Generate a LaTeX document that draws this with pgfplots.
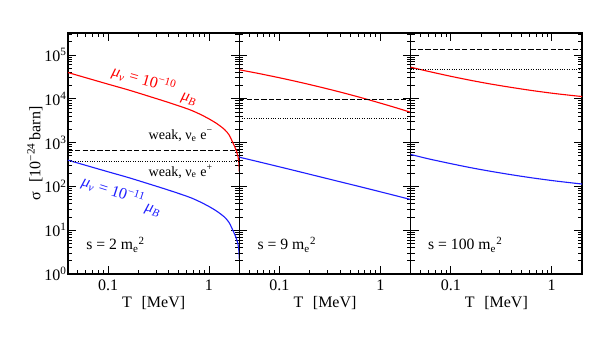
\documentclass[border=0pt]{standalone}
\usepackage{fontspec}
\setmainfont{Liberation Serif}
\usepackage{pgfplots}
\usepackage{pgfplotstable}
\pgfplotsset{compat=1.18}
\definecolor{gred}{HTML}{FF0000}
\definecolor{gblue}{HTML}{1E1EFF}

% T [MeV], sigma for mu = 1e-10 (red) and 1e-11 (blue)
\pgfplotstableread{
T     red    blue
0.04  39600  396
0.06  30200  302
0.10  21500  215
0.16  15800  158
0.25  11500  115
0.40  8170   81.7
0.63  5730   57.3
0.80  4520   45.2
1.00  3470   34.7
1.20  2690   26.9
1.42  2000   20.0
1.58  1500   15.0
1.73  977    9.77
1.84  708    7.08
1.94  479    4.79
1.97  380    3.80
2.00  214    2.14
}\panelA
\pgfplotstableread{
T     red    blue
0.04  45700  463
0.06  38300  371
0.10  30100  279
0.16  23700  214
0.25  18600  166
0.40  14200  127
0.63  10740  98.2
1.00  7940   75.2
1.40  6320   61.8
2.00  4900   50.1
}\panelB
\pgfplotstableread{
T     red    blue
0.04  52500  535
0.06  42100  425
0.10  32500  330
0.16  26100  265
0.25  21600  220
0.40  18100  184
0.63  15450  157
1.00  13400  136
1.40  12250  124
2.00  11220  113
}\panelC

\pgfplotsset{
  xmin=0.04, xmax=2, ymin=1, ymax=3.16e5,
  xtick={0.1,1}, xticklabels={0.1,1},
  minor xtick={0.05,0.06,0.07,0.08,0.09,0.2,0.3,0.4,0.5,0.6,0.7,0.8,0.9},
  ytick={1,10,100,1000,10000,100000},
  minor ytick={2,3,4,5,6,7,8,9,20,30,40,50,60,70,80,90,200,300,400,500,600,700,800,900,
    2000,3000,4000,5000,6000,7000,8000,9000,20000,30000,40000,50000,60000,70000,80000,90000,200000,300000},
  xtick pos=both, ytick pos=both,
  xticklabel pos=lower, yticklabel pos=left,
  tick align=inside, major tick length=5pt, minor tick length=2.5pt,
  tick style={black, line width=0.5pt},
  axis line style={line width=0.8pt},
  tick label style={font=\fontsize{10}{11}\selectfont},
  yticklabel style={inner xsep=0.6pt},
  xlabel style={font=\fontsize{10}{12}\selectfont, yshift=3pt},
  ylabel style={font=\fontsize{10}{12}\selectfont},
}
\tikzset{
  wk/.style={black, line width=0.6pt, dash pattern=on 3.2pt off 1.4pt},
  wp/.style={black, line width=0.5pt, dash pattern=on 0.5pt off 1pt},
  cv/.style={line width=0.7pt, smooth},
  txt/.style={font=\fontsize{8.8}{10}\selectfont, inner sep=0pt},
  mu/.style={font=\fontsize{10}{12}\selectfont, inner sep=0pt},
  sl/.style={font=\fontsize{9.8}{11}\selectfont, inner sep=0pt, anchor=base west},
}

\begin{document}
\begin{tikzpicture}
\path[use as bounding box] (-42.5pt,-43.125pt) rectangle (342.5pt,171.25pt);

\begin{axis}[xmode=log, ymode=log, scale only axis, width=107.1pt, height=150.6pt,
  name=p1, at={(0,0)}, anchor=south west,
  xlabel={T\hspace{0.6em}[MeV]},
  yticklabels={10\textsuperscript{0},10\textsuperscript{1},10\textsuperscript{2},10\textsuperscript{3},10\textsuperscript{4},10\textsuperscript{5}},
  ylabel={σ\hspace{0.6em}[10\textsuperscript{−24}\,barn]},
  ylabel style={at={(axis description cs:-0.193,0.5)}, anchor=center}]
\addplot[cv, gred] table[x=T,y=red] {\panelA};
\addplot[cv, gblue] table[x=T,y=blue] {\panelA};
\addplot[wk] coordinates {(0.04,660) (2,660)};
\addplot[wp] coordinates {(0.04,380) (2,380)};
\node[mu, text=gred, rotate=-16] at (axis cs:0.226,27000)
  {\textit{μ}\textsubscript{\textit{ν}} = 10\textsuperscript{−10}};
\node[mu, text=gred, rotate=-16] at (axis cs:0.63,9300) {\textit{μ}\textsubscript{\textit{B}}};
\node[mu, text=gblue, rotate=-18] at (axis cs:0.112,77)
  {\textit{μ}\textsubscript{\textit{ν}} = 10\textsuperscript{−11}};
\node[mu, text=gblue, rotate=-18] at (axis cs:0.275,27) {\textit{μ}\textsubscript{\textit{B}}};
\node[txt, anchor=base west] at (axis cs:0.25,1170) {weak, ν\textsubscript{e} e\textsuperscript{−}};
\node[txt, anchor=base west] at (axis cs:0.25,171) {weak, ν\textsubscript{e} e\textsuperscript{+}};
\node[sl] at (rel axis cs:0.105,0.1) {s = 2 m\textsubscript{e}\textsuperscript{2}};
\end{axis}

\begin{axis}[xmode=log, ymode=log, scale only axis, width=107.1pt, height=150.6pt,
  name=p2, at={(p1.south east)}, anchor=south west,
  xlabel={T\hspace{0.6em}[MeV]}, yticklabels={}]
\addplot[cv, gred] table[x=T,y=red] {\panelB};
\addplot[cv, gblue] table[x=T,y=blue] {\panelB};
\addplot[wk] coordinates {(0.04,9800) (2,9800)};
\addplot[wp] coordinates {(0.04,3630) (2,3630)};
\node[sl] at (rel axis cs:0.105,0.1) {s = 9 m\textsubscript{e}\textsuperscript{2}};
\end{axis}

\begin{axis}[xmode=log, ymode=log, scale only axis, width=107.1pt, height=150.6pt,
  name=p3, at={(p2.south east)}, anchor=south west,
  xlabel={T\hspace{0.6em}[MeV]}, yticklabels={}]
\addplot[cv, gred] table[x=T,y=red] {\panelC};
\addplot[cv, gblue] table[x=T,y=blue] {\panelC};
\addplot[wk] coordinates {(0.04,135000) (2,135000)};
\addplot[wp] coordinates {(0.04,45700) (2,45700)};
\node[sl] at (rel axis cs:0.1,0.1) {s = 100 m\textsubscript{e}\textsuperscript{2}};
\end{axis}
\end{tikzpicture}
\end{document}
